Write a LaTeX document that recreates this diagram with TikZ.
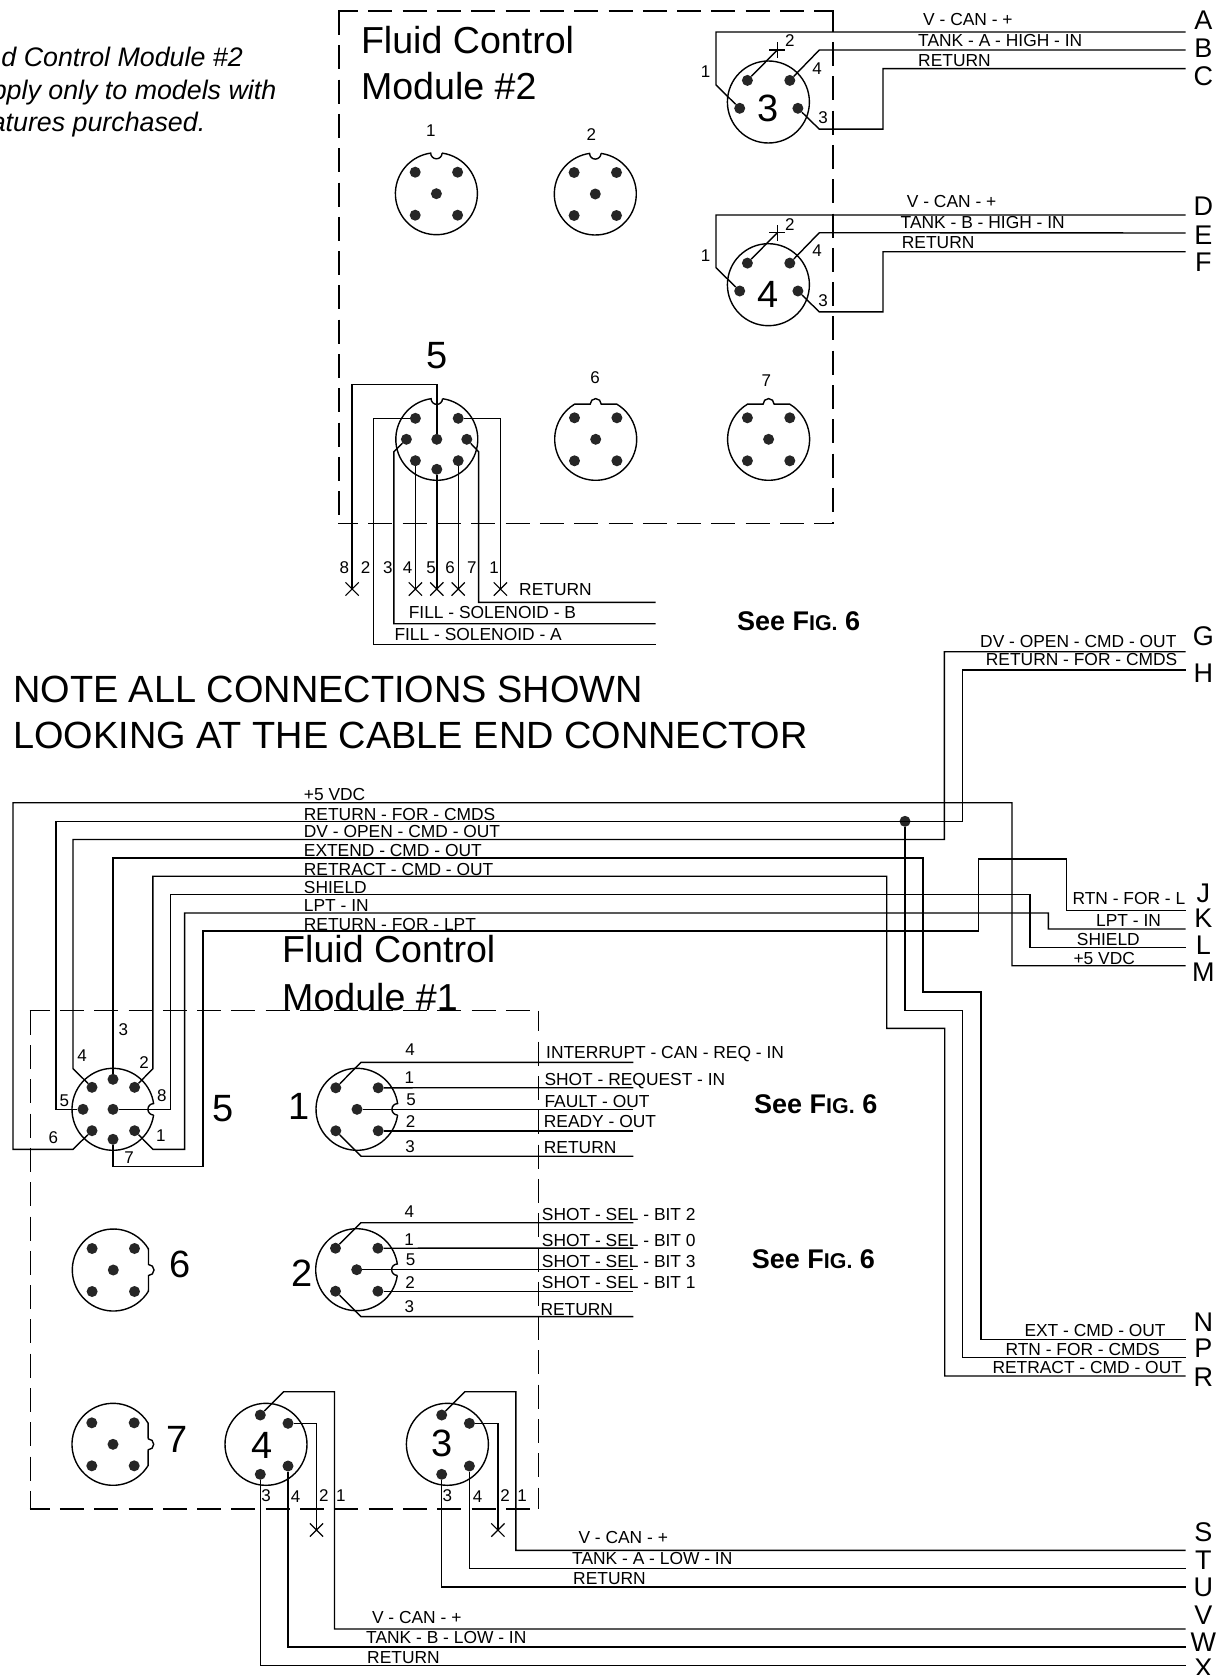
\documentclass[tikz,border=0pt]{standalone}
\usepackage{fontspec}
\setmainfont{Liberation Sans}
\usetikzlibrary{shapes.misc}

\tikzset{
  wire/.style={line width=1.4pt, line join=miter},
  body/.style={line width=1.4pt},
  frame/.style={line width=1.4pt, dash pattern=on 24pt off 10.3pt},
  pin/.style={circle, fill=black!85, minimum size=11pt, inner sep=0pt},
  xmk/.style={cross out, draw, line width=1.2pt, minimum size=12pt, inner sep=0pt},
  lbl/.style={font=\fontsize{17.4}{20}\selectfont, inner sep=0pt, anchor=west, text height=12.4pt, text depth=0pt},
  num/.style={font=\fontsize{17}{20}\selectfont, inner sep=0pt, text height=12.2pt, text depth=0pt},
  big/.style={font=\fontsize{38}{40}\selectfont, inner sep=0pt, text height=27.2pt, text depth=0pt},
  letter/.style={font=\fontsize{27}{30}\selectfont, inner sep=0pt, text height=19.3pt, text depth=0pt},
  title/.style={font=\fontsize{37.6}{40}\selectfont, inner sep=0pt, anchor=west, text height=26.9pt, text depth=0pt},
  note/.style={font=\fontsize{37.9}{40}\selectfont, inner sep=0pt, anchor=west, text height=27.1pt, text depth=0pt},
  remark/.style={font=\fontsize{26.8}{30}\itshape\selectfont, inner sep=0pt, anchor=east, text height=19pt, text depth=0pt},
  seefig/.style={font=\fontsize{27}{30}\bfseries\selectfont, inner sep=0pt, anchor=west, text height=19.3pt, text depth=0pt},
}
\newcommand{\jackplain}[2]{\draw[body] (#1,#2) circle[radius=41];}
\newcommand{\jacknotch}[3]{\draw[body,shift={(#1,#2)},rotate=#3] (-82:41) arc[start angle=-82,end angle=262,radius=41] arc[start angle=180,end angle=0,radius=5.7];}
\newcommand{\jackflat}[3]{\draw[body,shift={(#1,#2)},rotate=#3] (-59:41) arc[start angle=-59,end angle=239,radius=41] -- (-5.5,-35.2) arc[start angle=180,end angle=360,radius=5.5] -- cycle;}
\newcommand{\fivepins}[3]{%
  \node[pin] (#1-a) at (#2-21.2,#3-21.5) {};
  \node[pin] (#1-b) at (#2+21.2,#3-21.5) {};
  \node[pin] (#1-c) at (#2,#3) {};
  \node[pin] (#1-d) at (#2-21.2,#3+21.5) {};
  \node[pin] (#1-e) at (#2+21.2,#3+21.5) {};
}
\newcommand{\smallf}{\fontsize{21.4}{24}\selectfont}

\begin{document}
\begin{tikzpicture}[x=1pt,y=-1pt]
  \useasboundingbox (0,0) rectangle (1229,1675);

  % module frames
  \foreach \xa/\xb/\ya/\yb in {338.8/832.8/11/523.3, 30.3/538.2/1010.7/1509} {
    \draw[frame,dash phase=4] (\xa-0.7,\ya) -- (\xb+0.7,\ya);
    \draw[frame,dash phase=4] (\xa-0.7,\yb) -- (\xb+0.7,\yb);
    \draw[frame] (\xa,\ya) -- (\xa,\yb);
    \draw[frame,dash phase=3.3] (\xb,\ya) -- (\xb,\yb);
  }

  % free ends on the right
  \foreach \n/\y in {A/32,B/50,C/68.7,D/215,E/233,F/251.7,G/651.7,H/670,J/910.7,K/929,L/947.3,M/965.7,N/1339.3,P/1357.7,R/1376,S/1550.3,T/1568.7,U/1587,V/1629,W/1647,X/1665.7}
    \coordinate (end\n) at (1185.7,\y);
  \foreach \n/\y in {A/20,B/47.7,C/76,D/205.7,E/235,F/262.3,G/635.7,H/672.7,J/892.7,K/918.3,L/945,M/971.7,N/1321.7,P/1348.3,R/1376.7,S/1532.3,T/1560,U/1587.3,V/1615,W/1641.7,X/1668.3}
    \node[letter] (let\n) at (1203.3,\y) {\n};

  % module 2, plain jacks
  \jacknotch{436.4}{193.7}{0}
  \jacknotch{595.3}{194}{0}
  \fivepins{ta}{436.4}{193.7}
  \fivepins{tb}{595.3}{194}
  \jackflat{595.7}{439.3}{0}
  \jackflat{768.6}{439.3}{0}
  \fivepins{tf}{595.7}{439.3}
  \fivepins{tg}{768.6}{439.3}

  % module 2, jacks 3 and 4
  \foreach \c/\y/\p/\q/\r in {tc3/102/A/B/C, tc4/284.7/D/E/F} {
    \jackplain{768.4}{\y}
    \node[pin] (\c-a) at (747.4,\y-21.6) {};
    \node[pin] (\c-b) at (789.8,\y-21.6) {};
    \node[pin] (\c-c) at (739.7,\y+6.3) {};
    \node[pin] (\c-d) at (797.9,\y+6.3) {};
    \node[xmk,rotate=45,minimum size=10pt] (\c-x) at (777.3,\y-52) {};
    \draw[wire] (\c-a) -- (\c-x.center);
    \draw[wire] (\c-c) -- (716,\y-17) |- (end\p);
    \draw[wire] (\c-b) -- (819.3,\y-52) -- (end\q);
    \draw[wire] (\c-d) -- (819.3,\y+27.2) -- (883,\y+27.2) |- (end\r);
  }

  % module 2, jack 5
  \jacknotch{436.8}{439.3}{0}
  \foreach \n/\x/\y in {1/458.2/418.3, 2/415.4/418.3, 3/406.4/439.3, 4/415.4/460.7, 5/436.8/469.3, 6/458.2/460.7, 7/466.8/439.3, 8/436.8/439.3}
    \node[pin] (tc5-\n) at (\x,\y) {};
  \foreach \n/\x in {8/352.1, 4/415.4, 5/436.8, 6/458.2, 1/500.4}
    \node[xmk] (x\n) at (\x,589) {};
  \coordinate (solA) at (655.7,644.7);
  \coordinate (solB) at (655.7,623.7);
  \coordinate (solR) at (655.7,602.3);
  \draw[wire] (tc5-8) -- (436.8,384.3) -- (352.1,384.3) -- (x8.center);
  \draw[wire] (tc5-2) -- (373.2,418.3) |- (solA);
  \draw[wire] (tc5-3) -- (393.9,451.7) |- (solB);
  \draw[wire] (tc5-4) -- (x4.center);
  \draw[wire] (tc5-5) -- (x5.center);
  \draw[wire] (tc5-6) -- (x6.center);
  \draw[wire] (tc5-7) -- (478.6,451.7) |- (solR);
  \draw[wire] (tc5-1) -- (500.4,418.3) -- (x1.center);

  % module 1, jack 5 and the bus
  \jacknotch{113}{1109.3}{-90}
  \foreach \n/\x/\y in {1/134.6/1130.7, 2/134.6/1087.3, 3/113/1079.3, 4/92/1087.3, 5/83/1109.3, 6/92/1130.7, 7/113/1139.3, 8/113/1109.3}
    \node[pin] (lc5-\n) at (\x,\y) {};
  \node[pin] (jdot) at (905,821.3) {};
  \draw[wire] (lc5-6) -- (73,1149.3) -- (13,1149.3) -- (13,802.7) -- (1012,802.7) |- (endM);
  \draw[wire] (lc5-5) -- (56.1,1109.3) -- (56.1,821.3) -- (962.3,821.3) |- (endH);
  \draw[wire] (jdot) -- (905,1010.3) -- (962.7,1010.3) |- (endP);
  \draw[wire] (lc5-4) -- (73,1068.7) -- (73,839.5) -- (944.3,839.5) |- (endG);
  \draw[wire] (lc5-3) -- (113,857.8) -- (923,857.8) -- (923,992) -- (981,992) |- (endN);
  \draw[wire] (lc5-2) -- (152.9,1068.7) -- (152.9,876.2) -- (886.7,876.2) -- (886.7,1028.3) -- (944.7,1028.3) |- (endR);
  \draw[wire] (lc5-8) -- (170.5,1109.3) -- (170.5,894.5) -- (1030,894.5) |- (endL);
  \draw[wire] (lc5-1) -- (152.9,1149.3) -- (184.6,1149.3) -- (184.6,913) -- (1048.3,913) |- (endK);
  \draw[wire] (lc5-7) -- (113,1166.7) -- (202.8,1166.7) -- (202.8,931) -- (978.3,931) -- (978.3,859) -- (1066.3,859) |- (endJ);

  % module 1, jacks 1 and 2
  \foreach \c/\x/\y in {lc1/357/1109.3, lc2/356.7/1269.7} {
    \jacknotch{\x}{\y}{-90}
    \fivepins{\c}{\x}{\y}
    \foreach \k/\d in {a/-47, b/-21.6, c/0, e/21.5, d/46.9}
      \coordinate (\c-o\k) at (633.3,\y+\d);
    \draw[wire] (\c-a) -- (361,\y-47) -- (\c-oa);
    \draw[wire] (\c-b) -- (\c-ob);
    \draw[wire] (\c-c) -- (\c-oc);
    \draw[wire] (\c-e) -- (\c-oe);
    \draw[wire] (\c-d) -- (361,\y+46.9) -- (\c-od);
  }
  \jackflat{113.3}{1270}{-90}
  \jackflat{113}{1444.3}{-90}
  \fivepins{lc6}{113.3}{1270}
  \fivepins{lc7}{113}{1444.3}

  % module 1, jacks 4 and 3
  \foreach \c/\x/\p/\q/\r in {lc4/266/V/W/X, lc3/447.4/S/T/U} {
    \jackplain{\x}{1444.3}
    \node[pin] (\c-a) at (\x-5.7,1415) {};
    \node[pin] (\c-b) at (\x+22,1423.3) {};
    \node[pin] (\c-c) at (\x+22,1466) {};
    \node[pin] (\c-d) at (\x-5.7,1474.3) {};
    \node[xmk] (\c-x) at (\x+50.5,1530) {};
    \draw[wire] (\c-a) -- (\x+17.6,1391.7) -- (\x+68.5,1391.7) |- (end\p);
    \draw[wire] (\c-b) -- (\x+50.5,1423.3) -- (\c-x.center);
    \draw[wire] (\c-c) |- (end\q);
    \draw[wire] (\c-d) |- (end\r);
  }

  % pin numbers
  \foreach \x/\y/\t [count=\i] in {430.8/130.7/1, 591.3/134.3/2, 595/377.3/6, 766.4/380.7/7,
      705.5/71.7/1, 789.8/40.7/2, 817/68.3/4, 823.2/117.3/3, 705.5/255/1, 789.8/224/2, 817/250.7/4, 823.2/300.7/3,
      344.3/567.7/8, 365.7/567.7/2, 387.9/567.7/3, 407.5/567.7/4, 431/567.7/5, 450/567.7/6, 471.8/567.7/7, 494/567.7/1,
      123.3/1029.3/3, 82/1055.3/4, 144/1062/2, 64.4/1100/5, 161.8/1095/8, 53.4/1137.7/6, 160.8/1135.7/1, 129/1157.7/7,
      410/1049.3/4, 409.3/1077.3/1, 411/1099.3/5, 410.7/1121.7/2, 410/1146.7/3,
      409.3/1211.3/4, 409/1239.3/1, 410.7/1259.3/5, 410/1282.3/2, 409.3/1306/3,
      266/1495/3, 295.7/1496/4, 323.8/1495/2, 340.8/1495/1, 447.4/1495/3, 477.5/1496/4, 505/1495/2, 522/1495/1}
    \node[num] (num\i) at (\x,\y) {\t};

  % big jack numbers
  \foreach \x/\y/\t [count=\i] in {767.6/108.3/3, 768.4/293.7/4, 436.8/355/5, 222.6/1108.3/5, 299.5/1106/1, 302.3/1273.3/2, 179.6/1264/6, 177/1439.3/7, 261.8/1445/4, 442/1443.3/3}
    \node[big] (big\i) at (\x,\y) {\t};

  % signal names
  \foreach \x/\y/\t [count=\i] in {923/19/V - CAN - +, 918/40/TANK - A - HIGH - IN, 918/60/RETURN,
      906.7/201.7/V - CAN - +, 900.5/222.7/TANK - B - HIGH - IN, 901.7/242.3/RETURN,
      519/589/RETURN, 408.6/612.7/FILL - SOLENOID - B, 394.3/634.3/FILL - SOLENOID - A,
      980/641.7/DV - OPEN - CMD - OUT, 985.7/659.3/RETURN - FOR - CMDS,
      303.7/794.3/+5 VDC, 303.7/814/RETURN - FOR - CMDS, 303.7/831.7/DV - OPEN - CMD - OUT, 303.7/850/EXTEND - CMD - OUT,
      303.7/869/RETRACT - CMD - OUT, 303.7/887.3/SHIELD, 303.7/905/LPT - IN, 303.7/924.3/RETURN - FOR - LPT,
      1072.3/898.7/RTN - FOR - L, 1096/920/LPT - IN, 1076.7/939/SHIELD, 1073.3/958.3/+5 VDC,
      546/1052.3/INTERRUPT - CAN - REQ - IN, 544.3/1079.3/SHOT - REQUEST - IN, 544.3/1101/FAULT - OUT, 543.7/1121.7/READY - OUT, 543.7/1147.3/RETURN,
      541.7/1214/SHOT - SEL - BIT 2, 541.7/1240/SHOT - SEL - BIT 0, 541.7/1261/SHOT - SEL - BIT 3, 541.7/1282.7/SHOT - SEL - BIT 1, 540.3/1309.3/RETURN,
      1024.3/1330.7/EXT - CMD - OUT, 1005.3/1349.3/RTN - FOR - CMDS, 992.3/1367.7/RETRACT - CMD - OUT,
      578.3/1537.7/V - CAN - +, 572/1558.3/TANK - A - LOW - IN, 573/1578.3/RETURN,
      371.8/1617.3/V - CAN - +, 366/1637.7/TANK - B - LOW - IN, 367/1657.7/RETURN}
    \node[lbl] (sig\i) at (\x,\y) {\t};

  % titles and notes
  \node[title] (fluid2) at (360.8,39.7) {Fluid Control};
  \node[title] (mod2) at (360.8,86.3) {Module \#2};
  \node[title] (fluid1) at (282,949.3) {Fluid Control};
  \node[title] (mod1) at (282,996.7) {Module \#1};
  \node[remark] (rem1) at (243,57.5) {d Control Module \#2};
  \node[remark] (rem2) at (276.5,90) {pply only to models with};
  \node[remark] (rem3) at (205.5,122) {atures purchased.};
  \node[note] (note1) at (13,689.3) {NOTE ALL CONNECTIONS SHOWN};
  \node[note] (note2) at (13,735) {LOOKING AT THE CABLE END CONNECTOR};
  \node[seefig] (see1) at (736.9,620.7) {See F{\smallf IG.} 6};
  \node[seefig] (see2) at (754,1104) {See F{\smallf IG.} 6};
  \node[seefig] (see3) at (751.7,1259) {See F{\smallf IG.} 6};
\end{tikzpicture}
\end{document}
